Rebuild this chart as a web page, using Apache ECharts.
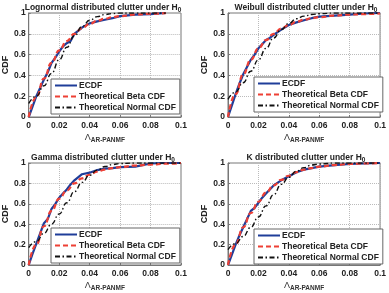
<!DOCTYPE html>
<html>
<head>
<meta charset="utf-8">
<script src="https://cdn.jsdelivr.net/npm/echarts@6.0.0/dist/echarts.min.js"></script>
<style>
  html, body { margin: 0; padding: 0; background: #fff; }
  #chart { width: 389px; height: 293px; }
</style>
</head>
<body>
<div id="chart"></div>
<script>
// x positions for the theoretical curves and for the empirical CDF
const theoX = [0, 0.005, 0.01, 0.015, 0.02, 0.025, 0.03, 0.035, 0.04, 0.045, 0.05, 0.055, 0.06, 0.07, 0.08, 0.09, 0.1];
const ecdfX = [0, 0.0025, 0.005, 0.0075, 0.01, 0.0125, 0.015, 0.0175, 0.02, 0.0225, 0.025, 0.0275, 0.03, 0.035, 0.04, 0.045, 0.05, 0.055, 0.06, 0.07, 0.08, 0.09, 0.1];

const xTicks = [0, 0.02, 0.04, 0.06, 0.08, 0.1];
const yTicks = [0, 0.2, 0.4, 0.6, 0.8, 1];

const panelTitles = ["Lognormal", "Weibull", "Gamma", "K"];
const seriesNames = ["ECDF", "Theoretical Beta CDF", "Theoretical Normal CDF"];

// Lognormal
const lognEcdf = [0, 0.1, 0.2, 0.28, 0.36, 0.43, 0.52, 0.57, 0.63, 0.68, 0.71, 0.73, 0.8, 0.86, 0.9, 0.92, 0.935, 0.95, 0.97, 0.985, 0.99, 1, null];
const lognBeta = [0, 0.19, 0.37, 0.52, 0.64, 0.73, 0.8, 0.855, 0.895, 0.925, 0.945, 0.96, 0.97, 0.985, 0.993, 0.998, null];
const lognNorm = [0.13, 0.2, 0.3, 0.42, 0.55, 0.67, 0.78, 0.87, 0.93, 0.965, 0.985, 0.995, 1, 1, 1, 1, null];

// Weibull
const wblEcdf = [0, 0.11, 0.22, 0.32, 0.41, 0.48, 0.55, 0.6, 0.66, 0.7, 0.74, 0.76, 0.79, 0.84, 0.885, 0.91, 0.93, 0.95, 0.965, 0.975, 0.985, 0.995, 1];
const wblBeta = [0, 0.22, 0.41, 0.55, 0.66, 0.74, 0.8, 0.85, 0.885, 0.915, 0.935, 0.95, 0.96, 0.975, 0.985, 0.99, 0.995];
const wblNorm = [0.17, 0.24, 0.33, 0.44, 0.55, 0.66, 0.76, 0.84, 0.9, 0.945, 0.97, 0.985, 0.993, 1, 1, 1, 1];

// Gamma
const gamEcdf = [0, 0.11, 0.21, 0.31, 0.41, 0.45, 0.55, 0.6, 0.66, 0.7, 0.74, 0.79, 0.83, 0.89, 0.905, 0.93, 0.945, 0.95, 0.96, 0.965, 0.995, 1, 1];
const gamBeta = [0, 0.2, 0.38, 0.53, 0.65, 0.73, 0.8, 0.85, 0.885, 0.915, 0.935, 0.95, 0.96, 0.975, 0.985, 0.993, 1];
const gamNorm = [0.17, 0.23, 0.31, 0.4, 0.5, 0.61, 0.72, 0.81, 0.88, 0.93, 0.965, 0.985, 0.995, 1, 1, 1, 1];

// K
const kEcdf = [0, 0.1, 0.2, 0.29, 0.37, 0.45, 0.53, 0.56, 0.61, 0.66, 0.7, 0.74, 0.78, 0.83, 0.87, 0.91, 0.935, 0.95, 0.965, 0.98, 0.99, 0.995, 1];
const kBeta = [0, 0.2, 0.37, 0.51, 0.62, 0.71, 0.78, 0.835, 0.875, 0.91, 0.935, 0.95, 0.965, 0.98, 0.99, 0.995, 1];
const kNorm = [0.15, 0.21, 0.28, 0.37, 0.47, 0.58, 0.69, 0.79, 0.86, 0.92, 0.955, 0.98, 0.99, 1, 1, 1, 1];

const panelData = [
  [lognEcdf, lognBeta, lognNorm],
  [wblEcdf, wblBeta, wblNorm],
  [gamEcdf, gamBeta, gamNorm],
  [kEcdf, kBeta, kNorm]
];

const font = "Liberation Sans";
const grids = [
  { left: 25, top: 13, width: 156, height: 104 },
  { left: 228, top: 13, width: 156, height: 104 },
  { left: 25, top: 163, width: 156, height: 105 },
  { left: 228, top: 163, width: 156, height: 105 }
];
const titleTop = [1, 1, 151, 151];
const legendPos = [
  { left: 51, top: 79 },
  { left: 254, top: 77 },
  { left: 51, top: 228 },
  { left: 254, top: 229 }
];

const zip = (xs, ys) => xs.map((x, i) => [x, ys[i]]);
const fmt = v => String(+v.toFixed(2));

const chart = echarts.init(document.getElementById("chart"), null, { renderer: "canvas" });

const option = {
  animation: false,
  backgroundColor: "#fff",
  title: grids.map((g, i) => ({
    text: "{a|" + panelTitles[i] + " distributed clutter under H}{s|0}",
    left: g.left + g.width / 2,
    textAlign: "center",
    top: titleTop[i],
    padding: 0,
    textStyle: {
      rich: {
        a: { fontFamily: font, fontWeight: "bold", fontSize: 8.5, color: "#222" },
        s: { fontFamily: font, fontWeight: "bold", fontSize: 6.5, color: "#222", verticalAlign: "bottom", padding: [6, 0, 0, 0] }
      }
    }
  })),
  grid: grids.map(g => ({ ...g, show: true, borderColor: "#777", borderWidth: 1, containLabel: false })),
  legend: legendPos.map(p => ({
    ...p,
    orient: "vertical",
    data: seriesNames,
    backgroundColor: "#fff",
    borderColor: "#666",
    borderWidth: 1,
    borderRadius: 0,
    padding: [2, 4, 2, 3],
    itemGap: 2,
    itemWidth: 22,
    itemHeight: 10,
    selectedMode: false,
    itemStyle: { color: "transparent", borderWidth: 0, opacity: 0 },
    textStyle: { fontFamily: font, fontWeight: "bold", fontSize: 8.5, color: "#222", padding: [0, 0, 0, -3] }
  })),
  xAxis: grids.map((g, i) => ({
    gridIndex: i,
    type: "value",
    min: 0,
    max: 0.1,
    interval: 0.02,
    name: "{l|Λ}{s|AR-PANMF}",
    nameLocation: "middle",
    nameGap: 15,
    nameTextStyle: {
      rich: {
        l: { fontFamily: font, fontSize: 9, color: "#333" },
        s: { fontFamily: font, fontWeight: "bold", fontSize: 6.5, color: "#333", padding: [5, 0, 0, 0] }
      }
    },
    axisLine: { show: true, lineStyle: { color: "#777", width: 1 } },
    axisTick: { show: true, inside: true, length: 2, lineStyle: { color: "#777" } },
    axisLabel: { fontFamily: font, fontWeight: "bold", fontSize: 8.5, color: "#222", margin: 4, formatter: fmt,
      customValues: xTicks },
    splitLine: { show: true, lineStyle: { type: "dotted", color: "#bbb", width: 1 } }
  })),
  yAxis: grids.map((g, i) => ({
    gridIndex: i,
    type: "value",
    min: 0,
    max: 1,
    interval: 0.2,
    name: "CDF",
    nameLocation: "middle",
    nameGap: 17,
    nameTextStyle: { fontFamily: font, fontWeight: "bold", fontSize: 9, color: "#222" },
    axisLine: { show: true, lineStyle: { color: "#777", width: 1 } },
    axisTick: { show: true, inside: true, length: 2, lineStyle: { color: "#777" } },
    axisLabel: { fontFamily: font, fontWeight: "bold", fontSize: 8.5, color: "#222", margin: 3, formatter: fmt,
      customValues: yTicks },
    splitLine: { show: true, lineStyle: { type: "dotted", color: "#bbb", width: 1 } }
  })),
  series: []
};

panelData.forEach((d, i) => {
  option.series.push({
    name: seriesNames[0], type: "line", xAxisIndex: i, yAxisIndex: i,
    data: zip(ecdfX, d[0]), showSymbol: false, symbol: "none", z: 3,
    lineStyle: { color: "#1f3d99", width: 2.2 }, itemStyle: { color: "#1f3d99" }
  });
  option.series.push({
    name: seriesNames[1], type: "line", xAxisIndex: i, yAxisIndex: i,
    data: zip(theoX, d[1]), showSymbol: false, symbol: "none", smooth: true, smoothMonotone: "x", z: 4,
    lineStyle: { color: "#ee4035", width: 2.2, type: [5, 3] }, itemStyle: { color: "#ee4035" }
  });
  option.series.push({
    name: seriesNames[2], type: "line", xAxisIndex: i, yAxisIndex: i,
    data: zip(theoX, d[2]), showSymbol: false, symbol: "none", smooth: true, smoothMonotone: "x", z: 5,
    lineStyle: { color: "#111", width: 1.4, type: [5, 2.5, 1.5, 2.5] }, itemStyle: { color: "#111" }
  });
});

chart.setOption(option);
</script>
</body>
</html>
